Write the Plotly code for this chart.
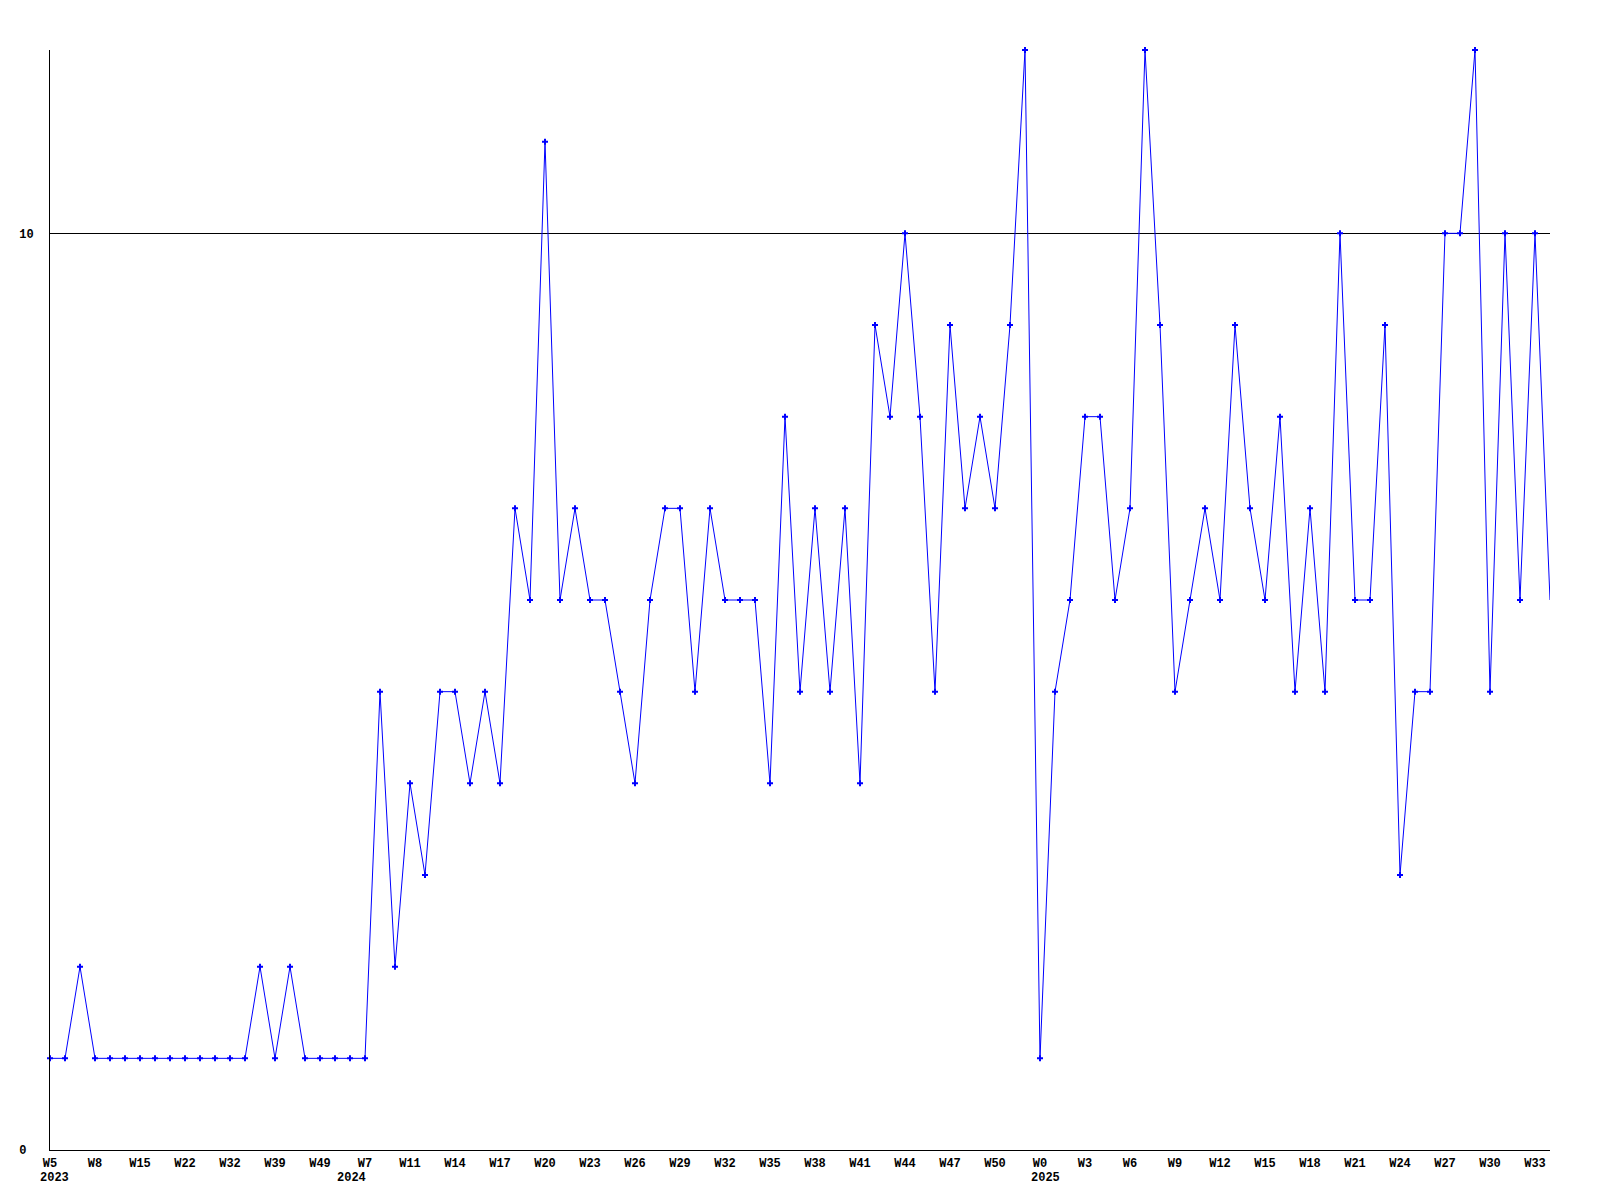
import plotly.graph_objects as go

# Weekly values (one per week, in order)
values = [1, 1, 2, 1, 1, 1, 1, 1, 1, 1,
          1, 1, 1, 1, 2, 1, 2, 1, 1, 1,
          1, 1, 5, 2, 4, 3, 5, 5, 4, 5,
          4, 7, 6, 11, 6, 7, 6, 6, 5, 4,
          6, 7, 7, 5, 7, 6, 6, 6, 4, 8,
          5, 7, 5, 7, 4, 9, 8, 10, 8, 5,
          9, 7, 8, 7, 9, 12, 1, 5, 6, 8,
          8, 6, 7, 12, 9, 5, 6, 7, 6, 9,
          7, 6, 8, 5, 7, 5, 10, 6, 6, 9,
          3, 5, 5, 10, 10, 12, 5, 10, 6, 10,
          6]

# Tick labels shown every third week
tick_labels = ["W5", "W8", "W15", "W22", "W32", "W39", "W49", "W7", "W11", "W14",
               "W17", "W20", "W23", "W26", "W29", "W32", "W35", "W38", "W41", "W44",
               "W47", "W50", "W0", "W3", "W6", "W9", "W12", "W15", "W18", "W21",
               "W24", "W27", "W30", "W33"]
# Year labels under specific tick labels (index into tick_labels)
year_labels = {"2023": 0, "2024": 7, "2025": 22}

y_tick_vals = [0, 10]
y_tick_text = ["0\u00a0", "10"]

x = list(range(len(values)))
tick_step = 3
tick_vals = [i * tick_step for i in range(len(tick_labels))]

BLUE = "#0000ff"
FONT = dict(family="Liberation Mono, DejaVu Sans Mono, monospace", size=12,
            color="black", weight="bold")

fig = go.Figure()
fig.add_trace(go.Scatter(x=x, y=values, mode="lines",
                         line=dict(color=BLUE, width=1), showlegend=False,
                         cliponaxis=False))
fig.add_trace(go.Scatter(x=x[:-1], y=values[:-1], mode="markers",
                         marker=dict(color=BLUE, symbol="cross", size=5,
                                     line=dict(width=0)),
                         showlegend=False, cliponaxis=False))

year_align = {"2023": ("left", -12), "2024": ("right", 3), "2025": ("left", -11)}
for year, ti in year_labels.items():
    anchor, shift = year_align[year]
    fig.add_annotation(x=tick_vals[ti], y=0, xref="x", yref="paper",
                       text=year, showarrow=False, xanchor=anchor, yanchor="top",
                       xshift=shift, yshift=-19, font=FONT)

# page body has an 8px default margin, so the figure is offset by 8px
fig.update_layout(
    width=1592, height=1192,
    margin=dict(l=42, r=50, t=42, b=50),
    paper_bgcolor="white", plot_bgcolor="white",
    font=FONT,
    xaxis=dict(range=[0, len(values) - 1], tickmode="array", tickvals=tick_vals,
               ticktext=tick_labels, showgrid=False, zeroline=False,
               showline=True, linecolor="black", linewidth=1, ticks="",
               tickfont=FONT, ticklabelstandoff=2),
    yaxis=dict(range=[0, 12], tickmode="array", tickvals=y_tick_vals,
               ticktext=y_tick_text, showgrid=True, gridcolor="black",
               gridwidth=1, zeroline=False, showline=True, linecolor="black",
               linewidth=1, ticks="", tickfont=FONT, ticklabelstandoff=13),
)

fig.write_html("out.html")
